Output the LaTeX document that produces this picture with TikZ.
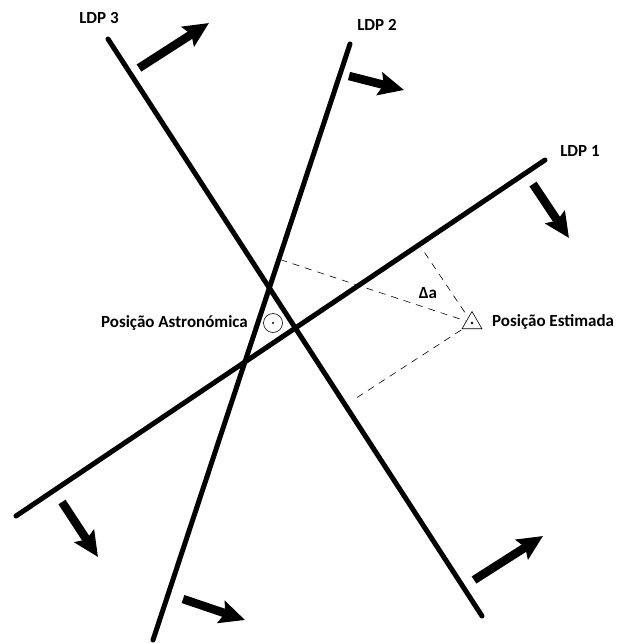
\documentclass[tikz,border=0pt]{standalone}
\usepackage{fontspec}
\setmainfont{Carlito}
\usetikzlibrary{arrows.meta,calc,shapes.geometric}
\begin{document}
\begin{tikzpicture}[x=1pt,y=-1pt,
  ldp/.style={line width=5pt,line cap=round},
  dir/.style={line width=8.5pt,-{Stealth[length=25pt,width=23pt,inset=4pt]}},
  dashline/.style={line width=0.6pt,dash pattern=on 7pt off 6pt},
  lbl/.style={font=\fontsize{17}{19}\selectfont\bfseries,inner sep=0pt}]
\useasboundingbox (0,0) rectangle (624,643);
% lines of position
\coordinate (l3a) at (108,39);  \coordinate (l3b) at (482,616);
\coordinate (l2a) at (350,44);  \coordinate (l2b) at (153,640);
\coordinate (l1a) at (545,160); \coordinate (l1b) at (16,516);
\draw[ldp] (l3a) -- (l3b);
\draw[ldp] (l2a) -- (l2b);
\draw[ldp] (l1a) -- (l1b);
% direction arrows
\coordinate (a3t) at (139,68);  \coordinate (a3h) at (209,23);
\coordinate (a2t) at (349,76);  \coordinate (a2h) at (404,90);
\coordinate (a1t) at (533,184); \coordinate (a1h) at (569,238);
\coordinate (b1t) at (62,502);  \coordinate (b1h) at (98,557);
\coordinate (b2t) at (183,599); \coordinate (b2h) at (245,620);
\coordinate (b3t) at (474,580); \coordinate (b3h) at (543,536);
\draw[dir] (a3t) -- (a3h);
\draw[dir] (a2t) -- (a2h);
\draw[dir] (a1t) -- (a1h);
\draw[dir] (b1t) -- (b1h);
\draw[dir] (b2t) -- (b2h);
\draw[dir] (b3t) -- (b3h);
% estimated position
\coordinate (P) at (472,323);
\coordinate (f2) at ($(l2a)!(P)!(l2b)$);
\coordinate (f1) at ($(l1a)!(P)!(l1b)$);
\coordinate (f3) at ($(l3a)!(P)!(l3b)$);
\coordinate (f3s) at ($(f3)!8pt!(P)$);
\draw[dashline] (P) -- (f2);
\draw[dashline] (P) -- (f1);
\draw[dashline] (P) -- (f3s);
\node[draw,fill=white,regular polygon,regular polygon sides=3,minimum size=23pt,inner sep=0pt,line width=0.6pt] (est) at (P) {};
\fill (P) circle (1.4pt);
% astronomical position
\node[draw,circle,minimum size=19pt,inner sep=0pt,line width=0.6pt,fill=white] (ast) at (273,323) {};
\fill (ast.center) circle (1.1pt);
% labels
\node[lbl,anchor=east] (tast) at (248,323) {Posição Astronómica};
\node[lbl,anchor=west] (test) at (492,322) {Posição Estimada};
\node[lbl] (da) at (428,293) {Δa};
\node[lbl] (t3) at (99,18) {LDP 3};
\node[lbl] (t2) at (377,25) {LDP 2};
\node[lbl] (t1) at (580,151) {LDP 1};
\end{tikzpicture}
\end{document}
